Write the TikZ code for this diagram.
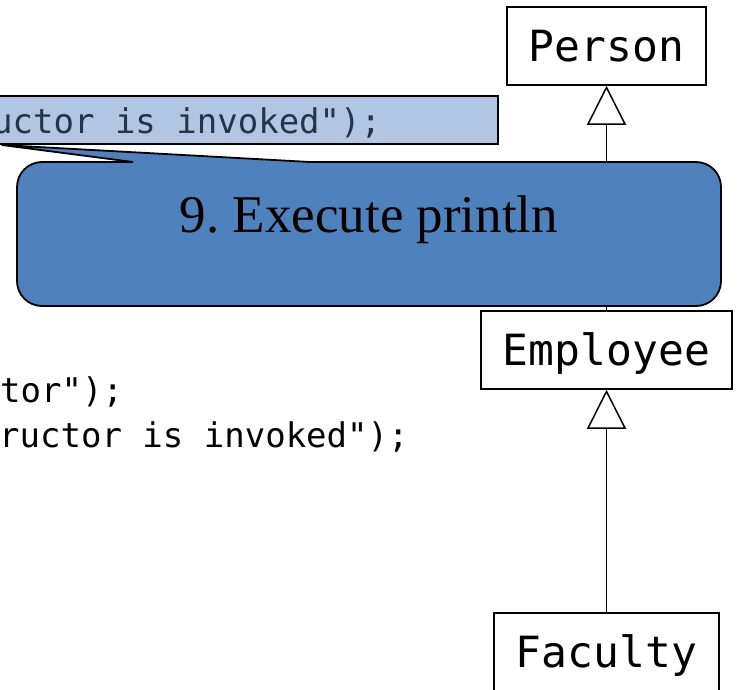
\documentclass[tikz,border=0pt]{standalone}
\usepackage{fontspec}
\setmainfont{Liberation Serif}
\newfontfamily\codefont{DejaVu Sans Mono}
\usetikzlibrary{arrows.meta}
\definecolor{calloutblue}{HTML}{4F81BD}
\definecolor{hilite}{HTML}{B0C6E2}
\definecolor{hilitetext}{HTML}{243449}
\frenchspacing
\begin{document}
\begin{tikzpicture}[x=1pt,y=-1pt,
  classbox/.style={draw, line width=1.5pt, fill=white, minimum height=78pt,
    inner sep=0pt, text height=31pt, text depth=0pt,
    font=\codefont\fontsize{43}{50}\selectfont},
  inherit/.style={line width=1.5pt,
    -{Triangle[length=39pt,width=39pt,fill=white,line width=1.5pt]}},
  codeline/.style={anchor=base west, inner sep=0pt,
    font=\codefont\fontsize{34}{40}\selectfont},
  calloutbox/.style={draw, line width=1.8pt, fill=calloutblue,
    rounded corners=25pt, minimum width=704pt, minimum height=144pt, inner sep=0pt}]
\useasboundingbox (0,0) rectangle (742,689);
\clip (0,0) rectangle (742,689);

% class hierarchy
\node[classbox, minimum width=199pt] (person) at (606.5,46) {Person};
\node[classbox, minimum width=251pt] (employee) at (606.5,350) {Employee};
\node[classbox, minimum width=225pt] (faculty) at (606.5,652) {Faculty};
\draw[inherit] (faculty) -- (employee);
\draw[inherit] (employee) -- (person);

% highlighted source line
\draw[fill=hilite, line width=1.5pt] (-10,96) rectangle (498,144);
\node[codeline, text=hilitetext] (hltext) at (-8,133) {uctor is invoked");};

% remaining source lines
\node[codeline] (line1) at (0,402) {tor");};
\node[codeline] (line2) at (-1,447) {ructor is invoked");};

% callout with pointer
\node[calloutbox] (callout) at (369,234) {};
\fill[calloutblue] (133,164) -- (133,162) -- (2,145) -- (310,162) -- (310,164) -- cycle;
\draw[line width=1.8pt, line join=round] (133,162) -- (2,145) -- (310,162);
\node[anchor=base, inner sep=0pt, font=\fontsize{53}{60}\selectfont] (step) at (369,232) {9. Execute println};
\end{tikzpicture}
\end{document}
